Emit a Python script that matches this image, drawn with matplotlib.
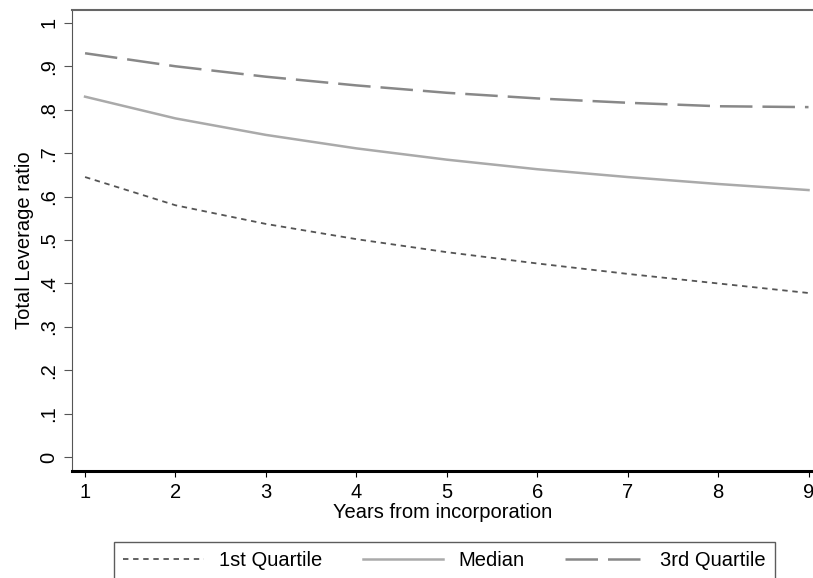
import matplotlib
matplotlib.use("Agg")
import matplotlib.pyplot as plt

plt.rcParams["font.family"] = ["Liberation Sans", "DejaVu Sans"]

years = [1, 2, 3, 4, 5, 6, 7, 8, 9]
q1     = [0.645, 0.580, 0.537, 0.502, 0.472, 0.446, 0.422, 0.400, 0.378]
median = [0.830, 0.780, 0.742, 0.711, 0.685, 0.663, 0.645, 0.629, 0.615]
q3     = [0.930, 0.900, 0.876, 0.856, 0.839, 0.826, 0.816, 0.808, 0.806]
yticks = [0, 0.1, 0.2, 0.3, 0.4, 0.5, 0.6, 0.7, 0.8, 0.9, 1.0]
ylabels = ["0", ".1", ".2", ".3", ".4", ".5", ".6", ".7", ".8", ".9", "1"]

FS = 14.5

fig = plt.figure(figsize=(8.13, 5.78), dpi=100)
ax = fig.add_axes([0.0886, 0.185, 0.912, 0.798])

ax.plot(years, q1, color="#555555", lw=1.3, linestyle=(0, (3.0, 2.6)), label="1st Quartile")
ax.plot(years, median, color="#aaaaaa", lw=1.8, label="Median")
ax.plot(years, q3, color="#888888", lw=1.8, linestyle=(0, (13, 4)), label="3rd Quartile")

ax.set_xlim(0.856, 9.055)
ax.set_ylim(-0.032, 1.03)
ax.set_xticks(years)
ax.set_yticks(yticks)
ax.set_yticklabels(ylabels, rotation=90, va="center")
ax.tick_params(axis="both", labelsize=FS, direction="out")
ax.tick_params(axis="y", color="#555555", length=5.5, pad=4.5)
ax.tick_params(axis="x", color="black", length=4.5, pad=4)

ax.spines["right"].set_visible(False)
ax.spines["left"].set_color("#555555")
ax.spines["top"].set_color("#666666")
ax.spines["top"].set_linewidth(1.5)
ax.spines["bottom"].set_color("black")
ax.spines["bottom"].set_linewidth(2.2)

ax.set_xlabel("Years from incorporation", fontsize=FS, labelpad=0.5)
ax.set_ylabel("Total Leverage ratio", fontsize=FS, labelpad=4)

leg = fig.legend(loc="lower center", bbox_to_anchor=(0.547, -0.02), ncol=3,
                 fontsize=FS, frameon=True, fancybox=False, handlelength=4.0,
                 handletextpad=0.75, columnspacing=2.0, borderpad=0.45)
leg.get_frame().set_edgecolor("#333333")
leg.get_frame().set_linewidth(1.0)

fig.savefig("out.png", dpi=100)
